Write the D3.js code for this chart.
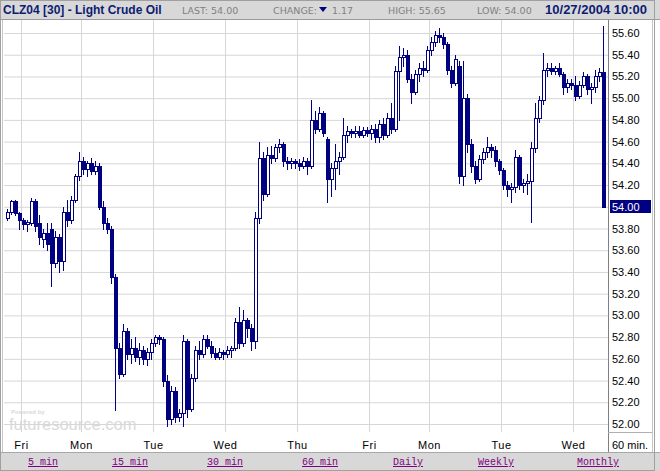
<!DOCTYPE html>
<html>
<head>
<meta charset="utf-8">
<script src="https://cdn.jsdelivr.net/npm/d3@7"></script>
<style>
  body { margin: 0; background: #ffffff; }
  svg { display: block; }
</style>
</head>
<body>
<div id="chart"></div>
<script>
// 30-minute bars, CLZ04, one entry per bar (Thu tail .. Wed 10:00)
const opens = [
    53.90, 53.95, 54.05, 53.94,
    53.88, 53.84, 53.85, 54.05, 53.85, 53.70, 53.76, 53.80, 53.48, 53.72, 53.50, 53.95, 53.88, 54.06, 54.28,
    54.42, 54.35, 54.40, 54.33, 54.38, 54.00, 53.85, 53.80, 53.35, 52.70, 52.46, 52.86, 52.64, 52.70, 52.62, 52.68, 52.60, 52.66,
    52.75, 52.80, 52.78, 52.40, 52.05, 52.30, 52.06, 52.10, 52.76, 52.14, 52.42, 52.68, 52.64, 52.78, 52.72, 52.65, 52.62, 52.66,
    52.64, 52.68, 52.70, 52.94, 52.75, 52.96, 52.88, 52.76, 53.90, 54.45, 54.12, 54.48, 54.45, 54.55, 54.58, 54.42, 54.40, 54.42,
    54.40, 54.38, 54.42, 54.38, 54.80, 54.72, 54.86, 54.62, 54.26, 54.36, 54.42, 54.46, 54.66, 54.70, 54.68, 54.70, 54.66, 54.71,
    54.68, 54.72, 54.64, 54.76, 54.66, 54.82, 54.72, 55.25, 55.38, 55.40, 55.18, 55.06, 55.22, 55.28, 55.26,
    55.44, 55.52, 55.58, 55.56, 55.50, 55.26, 55.14, 55.30, 54.28, 55.00, 54.58, 54.38, 54.26, 54.44, 54.50, 54.55, 54.52, 54.42,
    54.34, 54.20, 54.16, 54.18, 54.46, 54.20, 54.22, 54.24, 54.54, 54.82, 54.98, 55.26, 55.28, 55.25, 55.28, 55.22, 55.10, 55.14,
    55.12, 55.02, 55.12, 55.20, 55.08, 55.10, 55.20, 55.24
];
const highs = [
    53.98, 54.06, 54.06, 53.95,
    53.90, 53.88, 54.08, 54.07, 53.92, 53.80, 53.85, 53.85, 53.78, 53.75, 54.00, 54.06, 54.10, 54.30, 54.50,
    54.46, 54.42, 54.45, 54.42, 54.40, 54.05, 53.90, 53.82, 53.38, 52.75, 52.92, 52.88, 52.78, 52.80, 52.75, 52.72, 52.70, 52.78,
    52.82, 52.82, 52.80, 52.45, 52.35, 52.34, 52.14, 52.82, 52.78, 52.46, 52.72, 52.76, 52.82, 52.82, 52.76, 52.70, 52.70, 52.68,
    52.72, 52.72, 52.98, 53.08, 53.05, 52.98, 52.92, 53.95, 54.60, 54.50, 54.55, 54.56, 54.58, 54.62, 54.60, 54.46, 54.45, 54.44,
    54.44, 54.46, 54.45, 54.98, 54.88, 54.92, 54.88, 54.64, 54.40, 54.58, 54.50, 54.82, 54.74, 54.72, 54.74, 54.74, 54.73, 54.73,
    54.75, 54.76, 54.80, 54.82, 54.86, 54.96, 55.30, 55.48, 55.46, 55.44, 55.22, 55.26, 55.32, 55.34, 55.48,
    55.56, 55.62, 55.65, 55.60, 55.52, 55.30, 55.40, 55.34, 55.34, 55.04, 54.62, 54.42, 54.48, 54.54, 54.64, 54.58, 54.56, 54.44,
    54.36, 54.24, 54.22, 54.52, 54.48, 54.26, 54.30, 54.60, 54.96, 55.02, 55.42, 55.32, 55.32, 55.30, 55.32, 55.24, 55.18, 55.18,
    55.20, 55.16, 55.24, 55.22, 55.14, 55.26, 55.28, 55.66
];
const lows = [
    53.88, 53.93, 53.92, 53.80,
    53.80, 53.78, 53.83, 53.78, 53.66, 53.63, 53.60, 53.27, 53.45, 53.40, 53.42, 53.82, 53.85, 54.04, 54.25,
    54.30, 54.28, 54.30, 54.30, 53.98, 53.80, 53.76, 53.30, 52.13, 52.42, 52.44, 52.60, 52.56, 52.58, 52.55, 52.55, 52.54, 52.60,
    52.72, 52.74, 52.35, 51.98, 52.00, 52.02, 52.03, 51.98, 52.06, 52.12, 52.40, 52.60, 52.62, 52.70, 52.62, 52.60, 52.60, 52.60,
    52.62, 52.62, 52.68, 52.70, 52.72, 52.80, 52.68, 52.70, 53.85, 54.06, 54.10, 54.40, 54.42, 54.50, 54.38, 54.35, 54.36, 54.36,
    54.34, 54.36, 54.30, 54.36, 54.68, 54.70, 54.65, 54.04, 54.10, 54.16, 54.30, 54.44, 54.60, 54.64, 54.64, 54.64, 54.64, 54.65,
    54.62, 54.60, 54.60, 54.62, 54.64, 54.68, 54.70, 54.80, 55.30, 55.15, 54.96, 55.04, 55.16, 55.20, 55.24,
    55.40, 55.48, 55.52, 55.46, 55.22, 55.10, 55.12, 54.22, 54.20, 54.50, 54.32, 54.22, 54.24, 54.40, 54.46, 54.46, 54.38, 54.30,
    54.16, 54.10, 54.04, 54.14, 54.16, 54.14, 54.12, 53.86, 54.50, 54.78, 54.95, 55.20, 55.22, 55.22, 55.20, 55.04, 55.06, 55.08,
    54.98, 55.00, 55.10, 55.04, 54.96, 55.06, 55.16, 54.00
];
const closes = [
    53.95, 54.05, 53.94, 53.88,
    53.84, 53.86, 54.05, 53.82, 53.72, 53.76, 53.66, 53.48, 53.72, 53.50, 53.95, 53.88, 54.06, 54.28, 54.42,
    54.35, 54.40, 54.33, 54.38, 54.00, 53.85, 53.80, 53.35, 52.70, 52.46, 52.86, 52.64, 52.70, 52.62, 52.68, 52.60, 52.66, 52.75,
    52.80, 52.78, 52.40, 52.05, 52.30, 52.06, 52.10, 52.76, 52.14, 52.42, 52.68, 52.64, 52.78, 52.72, 52.65, 52.62, 52.66, 52.64,
    52.68, 52.70, 52.94, 52.75, 52.96, 52.88, 52.76, 53.90, 54.45, 54.12, 54.48, 54.45, 54.55, 54.58, 54.42, 54.40, 54.42, 54.40,
    54.38, 54.42, 54.38, 54.80, 54.72, 54.86, 54.68, 54.26, 54.36, 54.42, 54.46, 54.66, 54.70, 54.68, 54.70, 54.66, 54.71, 54.68,
    54.72, 54.64, 54.76, 54.66, 54.82, 54.72, 55.25, 55.38, 55.40, 55.18, 55.06, 55.22, 55.28, 55.26, 55.44,
    55.52, 55.58, 55.56, 55.50, 55.26, 55.14, 55.36, 54.28, 55.00, 54.58, 54.38, 54.26, 54.44, 54.50, 54.55, 54.52, 54.42, 54.34,
    54.20, 54.16, 54.18, 54.46, 54.20, 54.22, 54.24, 54.54, 54.82, 54.98, 55.26, 55.28, 55.25, 55.28, 55.22, 55.10, 55.14, 55.12,
    55.02, 55.12, 55.20, 55.08, 55.10, 55.20, 55.24, 54.00
];

// session starts (bar index) and their labels
const dayStarts = [4, 19, 37, 55, 73, 91, 106, 124, 142];
const dayNames = ['Fri', 'Mon', 'Tue', 'Wed', 'Thu', 'Fri', 'Mon', 'Tue', 'Wed'];

const priceTicks = [52.0, 52.2, 52.4, 52.6, 52.8, 53.0, 53.2, 53.4, 53.6, 53.8,
                    54.0, 54.2, 54.4, 54.6, 54.8, 55.0, 55.2, 55.4, 55.6];

const headerLabels = ['LAST:', 'CHANGE:', 'HIGH:', 'LOW:'];
const headerValues = ['54.00', '1.17', '55.65', '54.00'];
const lastPrice = 54.00;

const periodLinks = ['5 min', '15 min', '30 min', '60 min', 'Daily', 'Weekly', 'Monthly'];

const NAVY = '#000080';
const GRID = '#d6d6d6';
const PANEL = '#d8d8d8';

function drawChart() {
    const width = 660, height = 471;
    const plotLeft = 4, plotRight = 608, plotTop = 20, plotBottom = 432;
    const n = opens.length;

    const svg = d3.select('#chart').append('svg')
        .attr('width', width)
        .attr('height', height)
        .style('font-family', '"Liberation Sans", Arial, sans-serif');

    svg.append('rect').attr('width', width).attr('height', height).attr('fill', '#fff');

    // bar index -> left pixel of the candle
    const x = d3.scaleLinear().domain([0, n]).range([6, 6 + 4 * n]);
    // column just before a bar (where the day grid line sits)
    const xGrid = d3.scaleLinear().domain([0, n]).range([5, 5 + 4 * n]);
    const y = d3.scaleLinear().domain([52.0, 55.6]).range([424, 33]);

    // Horizontal grid
    svg.append('g')
        .attr('transform', `translate(${plotLeft},0)`)
        .call(d3.axisLeft(y).tickValues(priceTicks).tickSize(-(plotRight - plotLeft)).tickFormat(''))
        .call(g => g.select('.domain').remove())
        .call(g => g.selectAll('line').attr('stroke', GRID));

    // Vertical day grid + day labels
    svg.append('g')
        .attr('transform', `translate(0,${plotBottom})`)
        .call(d3.axisBottom(xGrid).tickValues(dayStarts).tickSize(-(plotBottom - plotTop))
            .tickPadding(9).tickFormat((d, i) => dayNames[i]))
        .call(g => g.select('.domain').remove())
        .call(g => g.selectAll('line').attr('stroke', GRID))
        .call(g => g.selectAll('text')
            .attr('fill', '#000')
            .style('font-size', '11px')
            .style('letter-spacing', '0.5px'));

    // Watermark
    const wm = svg.append('g').attr('fill', '#d9d9d9');
    wm.append('text').attr('x', 11).attr('y', 414)
        .style('font-size', '6px').style('font-weight', 'bold').text('Powered by');
    wm.append('text').attr('x', 9).attr('y', 430)
        .style('font-size', '16.5px').text('futuresource.com');

    // Candles (4px bodies, touching neighbours)
    const bars = d3.range(n).map(i => ({
        i, o: opens[i], h: highs[i], l: lows[i], c: closes[i]
    }));
    const candle = svg.append('g').selectAll('g')
        .data(bars)
        .join('g');

    candle.append('line')
        .attr('x1', d => x(d.i) + 1.5)
        .attr('x2', d => x(d.i) + 1.5)
        .attr('y1', d => Math.round(y(d.h)))
        .attr('y2', d => Math.round(y(d.l)) + 1)
        .attr('stroke', NAVY);

    candle.append('rect')
        .each(function(d) {
            const node = d3.select(this);
            const yo = Math.round(y(d.o));
            const yc = Math.round(y(d.c));
            if (d.c >= d.o) {
                // hollow, up bar
                node.attr('x', x(d.i) + 0.5)
                    .attr('y', yc + 0.5)
                    .attr('width', 3)
                    .attr('height', Math.max(1, yo - yc))
                    .attr('fill', '#fff')
                    .attr('stroke', NAVY);
            } else {
                node.attr('x', x(d.i))
                    .attr('y', yo)
                    .attr('width', 4)
                    .attr('height', Math.max(1, yc - yo + 1))
                    .attr('fill', NAVY);
            }
        });

    // Header band
    const header = svg.append('g');
    header.append('rect').attr('x', 0).attr('y', 0).attr('width', width).attr('height', 19)
        .attr('fill', PANEL);
    header.append('line').attr('x1', 0).attr('x2', width).attr('y1', 19.5).attr('y2', 19.5)
        .attr('stroke', '#9a9a9a');
    header.append('text').attr('x', 3).attr('y', 14)
        .attr('fill', '#0c1c73')
        .style('font-size', '12px').style('font-weight', 'bold')
        .text('CLZ04 [30] - Light Crude Oil');

    const infoX = [182, 273, 388, 477];
    const info = header.append('g')
        .style('font-family', '"DejaVu Sans", Verdana, sans-serif')
        .style('font-size', '9.5px')
        .attr('fill', '#808080');
    headerLabels.forEach((lab, i) => {
        info.append('text').attr('x', infoX[i]).attr('y', 14)
            .text(i === 1 ? lab : lab + ' ' + headerValues[i]);
    });
    // change arrow + value
    header.append('path')
        .attr('d', 'M319,7 L327,7 L323,12 Z')
        .attr('fill', NAVY);
    info.append('text').attr('x', 332).attr('y', 14).text(headerValues[1]);

    header.append('text').attr('x', 647).attr('y', 14)
        .attr('text-anchor', 'end')
        .attr('fill', '#0c1c73')
        .style('font-size', '13px').style('font-weight', 'bold')
        .text('10/27/2004 10:00');

    // Price axis
    const axisG = svg.append('g')
        .attr('transform', `translate(${plotRight},0)`)
        .call(d3.axisRight(y).tickValues(priceTicks).tickSize(0).tickPadding(4)
            .tickFormat(d3.format('.2f')));
    axisG.select('.domain').remove();
    axisG.selectAll('text').attr('fill', '#000').style('font-size', '11px');

    svg.append('line')
        .attr('x1', plotRight + 0.5).attr('x2', plotRight + 0.5)
        .attr('y1', 20).attr('y2', 452)
        .attr('stroke', '#808080');
    svg.append('line')
        .attr('x1', plotRight).attr('x2', 652)
        .attr('y1', plotBottom + 0.5).attr('y2', plotBottom + 0.5)
        .attr('stroke', '#b0b0b0');

    // Last price marker
    const ly = Math.round(y(lastPrice));
    svg.append('rect')
        .attr('x', 610).attr('y', ly - 7)
        .attr('width', 41).attr('height', 13)
        .attr('fill', NAVY);
    svg.append('text')
        .attr('x', 612).attr('y', ly + 4)
        .attr('fill', '#fff')
        .style('font-size', '11px')
        .text(d3.format('.2f')(lastPrice));

    svg.append('text')
        .attr('x', 612).attr('y', 449)
        .style('font-size', '11px')
        .text('60 min.');

    // Period links
    const linkBar = svg.append('g');
    linkBar.append('rect').attr('x', 0).attr('y', 452).attr('width', width).attr('height', 19)
        .attr('fill', PANEL);
    linkBar.append('line').attr('x1', 0).attr('x2', width).attr('y1', 452.5).attr('y2', 452.5)
        .attr('stroke', '#a8a8a8');
    const linkX = [28, 112, 207, 302, 393, 478, 577];
    linkBar.selectAll('text.link')
        .data(periodLinks)
        .join('text')
        .attr('class', 'link')
        .attr('x', (d, i) => linkX[i])
        .attr('y', 465)
        .attr('fill', '#800080')
        .style('font-family', '"Liberation Mono", "Courier New", monospace')
        .style('font-size', '10px')
        .style('text-decoration', 'underline')
        .text(d => d);

    // Outer frame
    const frame = svg.append('g').attr('fill', 'none');
    frame.append('rect').attr('x', 0.5).attr('y', 0.5).attr('width', 654).attr('height', 470)
        .attr('stroke', '#a0a0a0');
    frame.append('line').attr('x1', 2.5).attr('x2', 2.5).attr('y1', 20).attr('y2', 452)
        .attr('stroke', '#c8c8c8');
    frame.append('line').attr('x1', 652.5).attr('x2', 652.5).attr('y1', 20).attr('y2', 452)
        .attr('stroke', '#c8c8c8');
}

drawChart();
</script>
</body>
</html>
